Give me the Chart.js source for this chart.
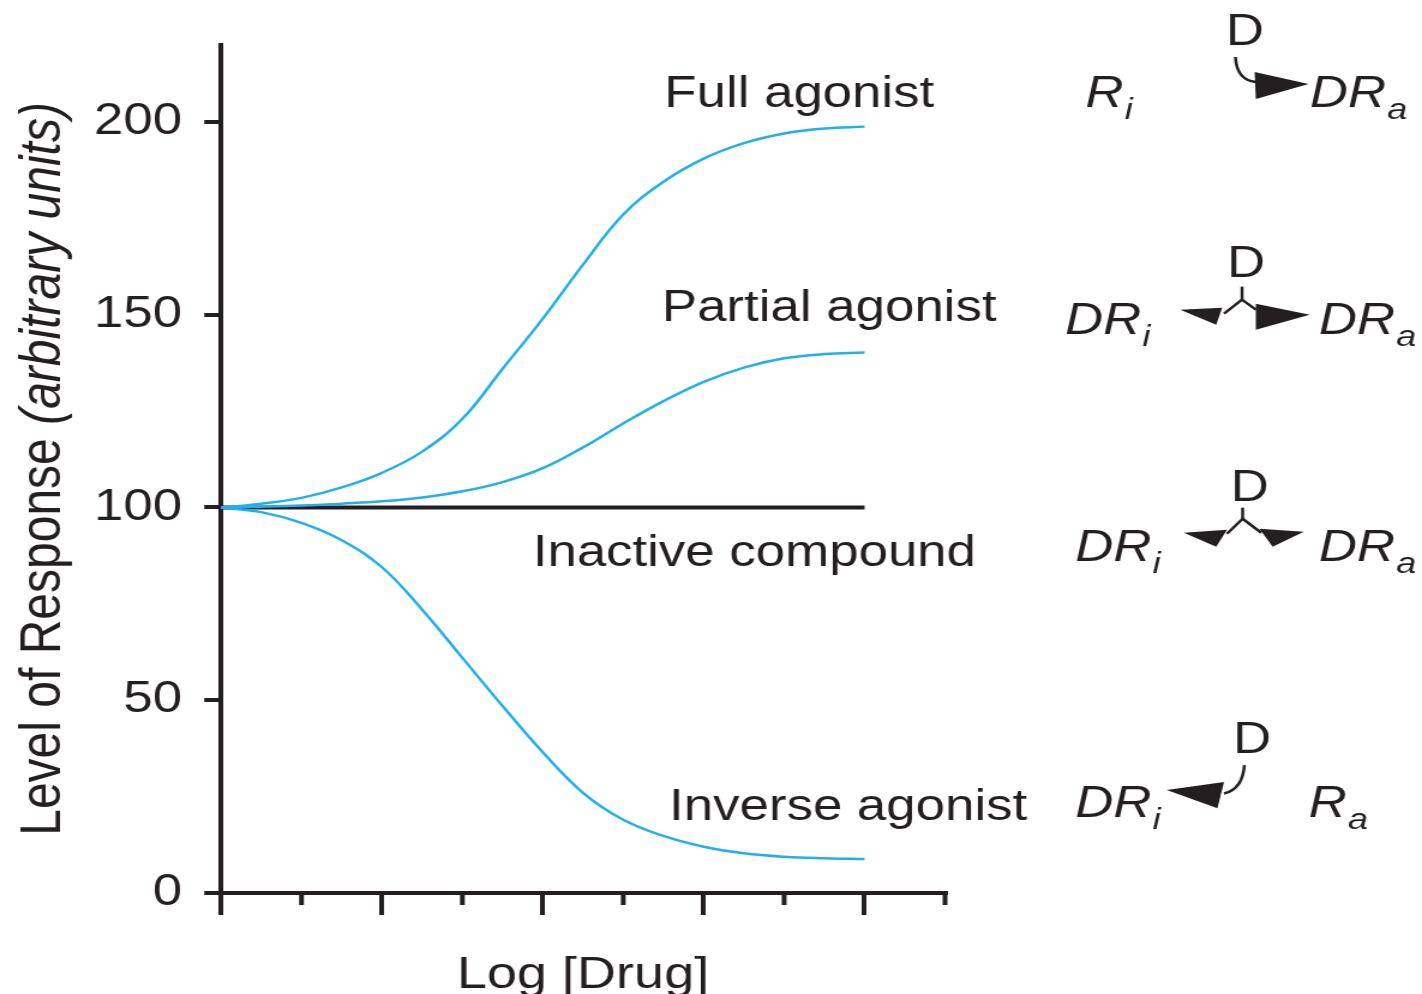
<!DOCTYPE html>
<html>
<head>
<meta charset="utf-8">
<title>Level of Response vs Log [Drug]</title>
<script src="https://cdn.jsdelivr.net/npm/chart.js@4.4.1/dist/chart.umd.min.js"></script>
<style>
  html, body { margin: 0; padding: 0; background: #fff; }
  #wrap { width: 1422px; height: 994px; overflow: hidden; background: #fff; }
  /* the source figure is Helvetica stretched sideways, so draw narrow and widen the canvas */
  #chart { display: block; width: 1185px; height: 994px; transform: scaleX(1.2); transform-origin: 0 0; }
</style>
</head>
<body>
<div id="wrap"><canvas id="chart" width="1185" height="994"></canvas></div>
<script>
// ---- data ----
const xValues          = [0, 0.5, 1, 1.5, 2, 2.5, 3, 3.5, 4, 4.5, 5, 5.5, 6, 6.5, 7, 7.5, 8];
const fullAgonist      = [100, 101, 102.5, 105.2, 109, 114.5, 123, 136, 149, 163, 176, 184.5, 190.5, 194.5, 197, 198.3, 198.8];
const partialAgonist   = [100, 100.2, 100.5, 101, 101.6, 102.6, 104.2, 106.6, 110.2, 115.6, 121.8, 127.6, 132.6, 136.3, 138.7, 139.8, 140.2];
const inactiveCompound = [100, 100, 100, 100, 100, 100, 100, 100, 100, 100, 100, 100, 100, 100, 100, 100, 100];
const inverseAgonist   = [100, 98.8, 96, 91.5, 84.5, 73.5, 61, 48.5, 36.5, 26, 19, 14.8, 12, 10.3, 9.4, 9, 8.8];

const yTicks      = [0, 50, 100, 150, 200];
const xMajorTicks = [0, 2, 4, 6, 8];
const xMinorTicks = [1, 3, 5, 7, 9];

const curveLabels = ['Full agonist', 'Partial agonist', 'Inactive compound', 'Inverse agonist'];
const xTitle = 'Log [Drug]';
const yTitle = 'Level of Response ';
const yTitleItalic = '(arbitrary units)';

// ---- look ----
const INK  = '#231f20';
const BLUE = '#22afea';
const SANS = '"Liberation Sans", Arial, Helvetica, sans-serif';

// where the curve names sit, in data units (x, y)
const labelPos = [[5.51, 203.9], [5.48, 148.3], [3.875, 84.8], [5.57, 18.9]];

// reaction schemes on the right; y = baseline in data units, the rest in px
// offsets from the right edge of the plot area (dx) and the baseline (dy)
const schemes = [
  { y: 203.9, words: [['R', 'i', 117], ['DR', 'a', 304]], d: [234, -62],
    curve: [[242, -50], [243, -27], [259, -25]], lines: [],
    heads: [[[258, -35], [259, -8], [303, -23]]] },
  { y: 145.1, words: [['DR', 'i', 100], ['DR', 'a', 311.5]], d: [235, -57],
    curve: null, lines: [[[232.5, -20], [247.5, -34], [259, -24]], [[247.5, -34], [247.5, -47]]],
    heads: [[[196, -24], [231, -26], [226, -9]], [[259, -30], [259, -4], [304, -19]]] },
  { y: 86.2, words: [['DR', 'i', 108.5], ['DR', 'a', 311.5]], d: [238, -60],
    curve: null, lines: [[[235, -27], [248, -42], [263.5, -28]], [[248, -42], [248, -53]]],
    heads: [[[199, -28], [235, -31], [226, -14]], [[262, -32], [299, -29], [273, -14]]] },
  { y: 19.7, words: [['DR', 'i', 108.5], ['R', 'a', 303]], d: [240, -64],
    curve: [[249.5, -52], [248, -28], [232.5, -23.5]], lines: [],
    heads: [[[184.7, -27], [232.5, -35], [227, -8.7]]] }
];

const pts = arr => arr.map((v, i) => ({ x: xValues[i], y: v }));

function font(size, italic){
  return (italic ? 'italic ' : '') + size + 'px ' + SANS;
}

const overlay = {
  id: 'overlay',
  afterDraw(chart){
    const { ctx, chartArea: ca, scales: { x, y } } = chart;
    ctx.save();
    ctx.fillStyle = INK;
    ctx.strokeStyle = INK;

    // minor x ticks (shorter than the major ones drawn by the scale)
    ctx.lineWidth = 4;
    xMinorTicks.forEach(v => {
      const px = x.getPixelForValue(v);
      ctx.beginPath();
      ctx.moveTo(px, ca.bottom);
      ctx.lineTo(px, ca.bottom + 12);
      ctx.stroke();
    });

    // curve names
    ctx.textBaseline = 'alphabetic';
    ctx.textAlign = 'left';
    ctx.font = font(44);
    curveLabels.forEach((t, i) => {
      ctx.fillText(t, x.getPixelForValue(labelPos[i][0]), y.getPixelForValue(labelPos[i][1]));
    });

    // x title
    ctx.textAlign = 'center';
    ctx.font = font(45);
    ctx.fillText(xTitle, (ca.left + ca.right) / 2, ca.bottom + 95);

    // y title, plain + italic part, rotated
    ctx.save();
    ctx.translate(50, (ca.top + ca.bottom) / 2);
    ctx.rotate(-Math.PI / 2);
    ctx.textAlign = 'left';
    ctx.font = font(48);
    const w1 = ctx.measureText(yTitle).width;
    ctx.font = font(48, true);
    const w2 = ctx.measureText(yTitleItalic).width;
    const sx = -(w1 + w2) / 2;
    ctx.font = font(48);
    ctx.fillText(yTitle, sx, 0);
    ctx.font = font(48, true);
    ctx.fillText(yTitleItalic, sx + w1, 0);
    ctx.restore();

    // schemes
    schemes.forEach(s => {
      const bx = ca.right;
      const by = y.getPixelForValue(s.y);
      ctx.textAlign = 'left';
      s.words.forEach(([main, sub, dx]) => {
        ctx.font = font(44, true);
        ctx.fillText(main, bx + dx, by);
        const w = ctx.measureText(main).width;
        ctx.font = font(30, true);
        ctx.fillText(sub, bx + dx + w + 1, by + 12);
      });
      ctx.font = font(44);
      ctx.fillText('D', bx + s.d[0], by + s.d[1]);

      ctx.lineWidth = 2.5;
      ctx.lineJoin = 'round';
      if (s.curve){
        const [a, c, b] = s.curve;
        ctx.beginPath();
        ctx.moveTo(bx + a[0], by + a[1]);
        ctx.quadraticCurveTo(bx + c[0], by + c[1], bx + b[0], by + b[1]);
        ctx.stroke();
      }
      s.lines.forEach(l => {
        ctx.beginPath();
        l.forEach(([dx, dy], i) => i ? ctx.lineTo(bx + dx, by + dy) : ctx.moveTo(bx + dx, by + dy));
        ctx.stroke();
      });
      s.heads.forEach(h => {
        ctx.beginPath();
        h.forEach(([dx, dy], i) => i ? ctx.lineTo(bx + dx, by + dy) : ctx.moveTo(bx + dx, by + dy));
        ctx.closePath();
        ctx.fill();
      });
    });

    ctx.restore();
  }
};

const lineStyle = { borderColor: BLUE, borderWidth: 2.5, pointRadius: 0, tension: 0.4, fill: false };

new Chart(document.getElementById('chart'), {
  type: 'line',
  data: {
    datasets: [
      { label: 'Full agonist', data: pts(fullAgonist), ...lineStyle, order: 1 },
      { label: 'Partial agonist', data: pts(partialAgonist), ...lineStyle, order: 1 },
      { label: 'Inverse agonist', data: pts(inverseAgonist), ...lineStyle, order: 1 },
      { label: 'Inactive compound', data: pts(inactiveCompound), borderColor: INK, borderWidth: 4,
        pointRadius: 0, fill: false, order: 10 }
    ]
  },
  options: {
    responsive: false,
    devicePixelRatio: 1,
    animation: false,
    clip: false,
    layout: { padding: { top: 42, right: 397.5, left: 0, bottom: 0 } },
    plugins: { legend: { display: false }, tooltip: { enabled: false } },
    scales: {
      x: {
        type: 'linear',
        min: 0, max: 9,
        afterBuildTicks: s => { s.ticks = xMajorTicks.map(v => ({ value: v })); },
        afterFit: s => { s.height = 101; },
        ticks: { display: false },
        grid: { drawOnChartArea: false, drawTicks: true, tickLength: 22, tickWidth: 4, tickColor: INK, color: INK, lineWidth: 4 },
        border: { display: true, color: INK, width: 4 }
      },
      y: {
        min: 0, max: 220,
        afterBuildTicks: s => { s.ticks = yTicks.map(v => ({ value: v })); },
        afterFit: s => { s.width = 184.2; },
        ticks: { color: INK, padding: 18.5, font: { family: SANS, size: 44 } },
        grid: { drawOnChartArea: false, drawTicks: true, tickLength: 14, tickWidth: 4, tickColor: INK, color: INK, lineWidth: 4 },
        border: { display: true, color: INK, width: 4 }
      }
    }
  },
  plugins: [overlay]
});
</script>
</body>
</html>
